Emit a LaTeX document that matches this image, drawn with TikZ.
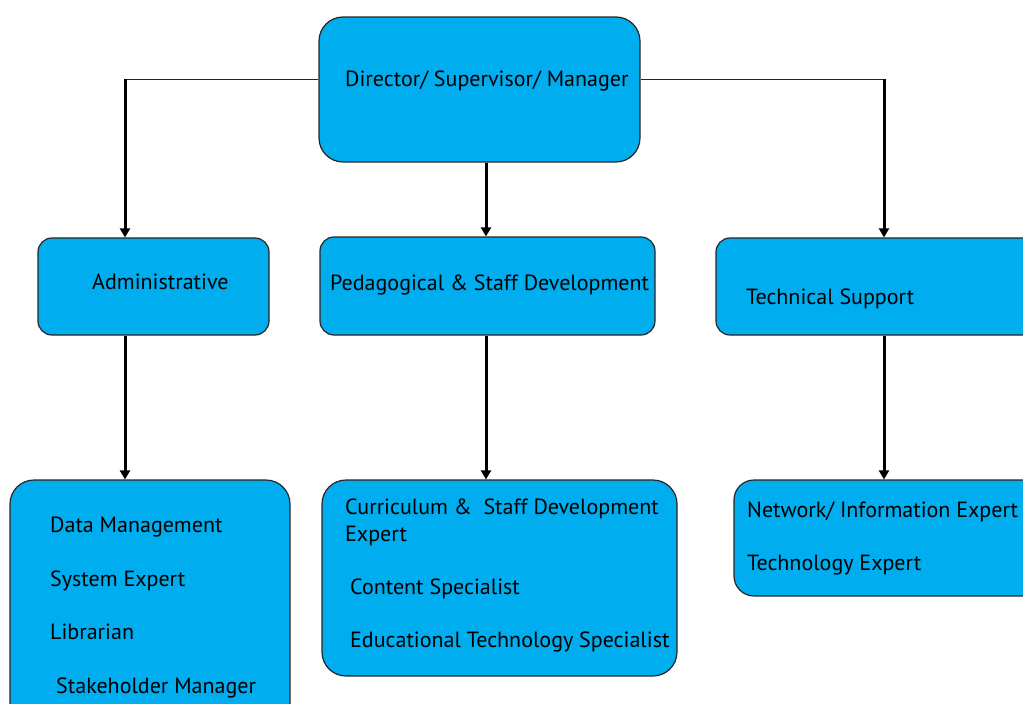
\documentclass[tikz,border=0pt]{standalone}
\usepackage{fontspec}
\setmainfont{PT Sans}
\usetikzlibrary{arrows.meta}
\definecolor{boxblue}{HTML}{00ADEE}
\tikzset{
  box/.style={draw=black!85, line width=1.2pt, fill=boxblue, inner sep=0pt, rounded corners=#1},
  box/.default=14pt,
  lbl/.style={anchor=base west, inner sep=0pt, font=\fontsize{22}{26}\selectfont},
  link/.style={line width=1pt, draw=black!85},
  arr/.style={line width=3pt, -{Triangle[width=10pt,length=9pt]}}
}
\begin{document}
\begin{tikzpicture}[x=1pt,y=-1pt]
\useasboundingbox (0,0) rectangle (1023,704);
\clip (0,0) rectangle (1023,704);

% boxes
\node[box=24pt, minimum width=321pt, minimum height=145pt] (dir) at (479.5,89.5) {};
\node[box, minimum width=231pt, minimum height=97pt] (adm) at (153.5,286.5) {};
\node[box, minimum width=335pt, minimum height=98pt] (ped) at (487.5,286) {};
\node[box, minimum width=330pt, minimum height=97pt] (tec) at (881,286.5) {};
\node[box=24pt, minimum width=280pt, minimum height=250pt] (admlist) at (150,605) {};
\node[box=24pt, minimum width=355pt, minimum height=196pt] (pedlist) at (499.5,578) {};
\node[box=20pt, minimum width=310pt, minimum height=116pt] (teclist) at (889,538) {};

% texts
\node[lbl] (tdir) at (345,86) {Director/ Supervisor/ Manager};
\node[lbl] (tadm) at (92,289) {Administrative};
\node[lbl] (tped) at (330,290) {Pedagogical \& Staff Development};
\node[lbl] (ttec) at (746,304) {Technical Support};

\node[lbl] (a1) at (50,532) {Data Management};
\node[lbl] (a2) at (50,586) {System Expert};
\node[lbl] (a3) at (50,639) {Librarian};
\node[lbl] (a4) at (56,693) {Stakeholder Manager};

\node[lbl] (p1) at (345,514) {Curriculum \&\ \ Staff Development};
\node[lbl] (p2) at (345,541) {Expert};
\node[lbl] (p3) at (350,594) {Content Specialist};
\node[lbl] (p4) at (350,647) {Educational Technology Specialist};

\node[lbl] (n1) at (747,517) {Network/ Information Expert};
\node[lbl] (n2) at (747,570) {Technology Expert};

% connectors
\coordinate (cl) at (125,79);
\coordinate (cm) at (486,79);
\coordinate (cr) at (884,79);
\draw[link] (dir.west |- cl) -- (cl);
\draw[link] (dir.east |- cr) -- (cr);
\draw[arr] (cl) -- (cl |- adm.north);
\draw[arr] (cm |- dir.south) -- (cm |- ped.north);
\draw[arr] (cr) -- (cr |- tec.north);
\draw[arr] (cl |- adm.south) -- (cl |- admlist.north);
\draw[arr] (cm |- ped.south) -- (cm |- pedlist.north);
\draw[arr] (cr |- tec.south) -- (cr |- teclist.north);
\end{tikzpicture}
\end{document}
